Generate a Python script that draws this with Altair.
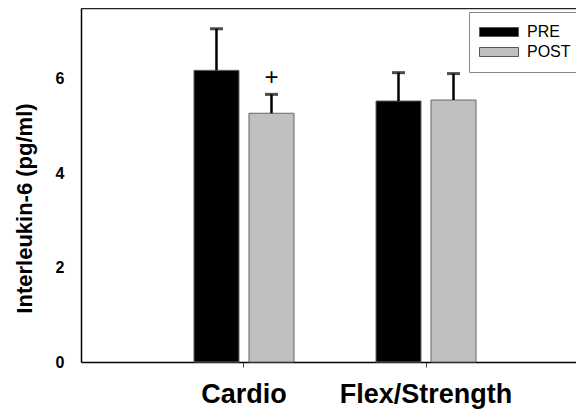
import altair as alt
import pandas as pd

categories = ["Cardio", "Flex/Strength"]
phases = ["PRE", "POST"]
pre_means = [6.18, 5.53]
pre_errors = [0.88, 0.60]
post_means = [5.27, 5.55]
post_errors = [0.40, 0.56]
pre_marks = ["", ""]
post_marks = ["+", ""]
y_ticks = [0, 2, 4, 6]

rows = []
for i, c in enumerate(categories):
    rows.append(dict(category=c, phase="PRE", mean=pre_means[i], err=pre_errors[i], mark=pre_marks[i]))
    rows.append(dict(category=c, phase="POST", mean=post_means[i], err=post_errors[i], mark=post_marks[i]))
df = pd.DataFrame(rows)
df["upper"] = df["mean"] + df["err"]

FONT = "Liberation Sans"
PW, PH = 495, 354

xscale = alt.Scale(domain=categories, paddingInner=0.4505, paddingOuter=0.585, align=0.5305)
offscale = alt.Scale(domain=phases, paddingInner=0.1818, paddingOuter=0)
yscale = alt.Scale(domain=[0, 7.5], nice=False, zero=True)

x_bottom = alt.X(
    "category:N", scale=xscale, sort=categories,
    axis=alt.Axis(title=None, orient="bottom", labelAngle=0, labelFont=FONT, labelFontSize=27,
                  labelFontWeight="bold", labelColor="black", labelPadding=14, tickSize=5,
                  tickColor="#444", tickWidth=1, domainColor="black", domainWidth=1.5),
)
x_top = alt.X(
    "category:N", scale=xscale, sort=categories,
    axis=alt.Axis(title=None, orient="top", labels=False, ticks=False, domainColor="#222",
                  domainWidth=1.5),
)
x_plain = alt.X("category:N", scale=xscale, sort=categories, axis=None)
x_off = alt.XOffset("phase:N", scale=offscale, sort=phases)
y_enc = alt.Y(
    "mean:Q", scale=yscale,
    axis=alt.Axis(title="Interleukin-6 (pg/ml)", values=y_ticks, grid=False, ticks=False, tickSize=0,
                  labelFont=FONT, labelFontSize=16, labelFontWeight="bold", labelColor="black",
                  labelPadding=17, domainColor="black", domainWidth=1.5,
                  titleFont=FONT, titleFontSize=22, titleFontWeight="bold", titleColor="black",
                  titleY=200, titleX=-57, titleBaseline="middle", titleAngle=270),
)

base = alt.Chart(df)

bars = base.mark_bar(stroke="#666", strokeWidth=1).encode(
    x=x_bottom,
    xOffset=x_off,
    y=y_enc,
    color=alt.Color(
        "phase:N", sort=phases,
        scale=alt.Scale(domain=phases, range=["#000000", "#c0c0c0"]),
        legend=alt.Legend(
            title=None, orient="none", legendX=388, legendY=4, padding=10,
            strokeColor="#888", fillColor="white",
            symbolType="M-1,-0.23H1V0.23H-1Z", symbolSize=1521,
            symbolStrokeColor="#555", symbolStrokeWidth=1,
            labelFont=FONT, labelFontSize=16, labelColor="black", labelOffset=8,
            clipHeight=20, rowPadding=0,
        ),
    ),
)

err_rule = base.mark_rule(color="black", strokeWidth=2.5).encode(
    x=x_top, xOffset=x_off, y=alt.Y("mean:Q", scale=yscale), y2="upper:Q"
)
caps = base.mark_tick(color="black", thickness=3, size=13).encode(
    x=x_plain, xOffset=x_off, y=alt.Y("upper:Q", scale=yscale)
)
plus = base.mark_text(dy=-16, fontSize=24, font=FONT, color="black", baseline="middle").encode(
    x=x_plain, xOffset=x_off, y=alt.Y("upper:Q", scale=yscale), text="mark:N"
)

chart = (
    alt.layer(bars, err_rule, caps, plus)
    .resolve_axis(x="independent")
    .properties(width=PW, height=PH, padding={"left": 73, "top": 0, "right": 0, "bottom": 47},
                autosize="none")
    .configure_view(stroke=None)
)

chart.save("out.html", embed_options={"renderer": "svg", "actions": False})
